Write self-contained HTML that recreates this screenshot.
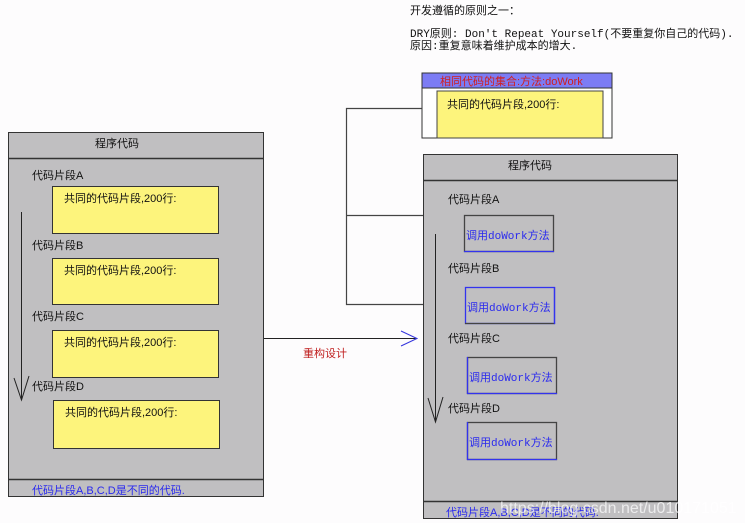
<!DOCTYPE html>
<html><head><meta charset="utf-8"><style>
html,body{margin:0;padding:0;background:#fdfcfd;width:745px;height:523px;overflow:hidden}
svg{display:block}
text{font-family:"Liberation Sans","Noto Sans CJK SC","WenQuanYi Zen Hei",sans-serif;font-size:11px;fill:#111}
.m{font-family:"Liberation Mono","Noto Sans CJK SC",monospace}
.b{fill:#2a2aee}
</style></head><body>
<svg width="745" height="523" viewBox="0 0 745 523" xmlns="http://www.w3.org/2000/svg">
<!-- top text -->
<text x="410" y="14">开发遵循的原则之一：</text>
<text x="410" y="37" class="m">DRY原则: Don't  Repeat  Yourself(不要重复你自己的代码).</text>
<text x="410" y="49" class="m">原因:重复意味着维护成本的增大.</text>

<!-- method box -->
<rect x="422" y="73" width="190" height="65" fill="#fff" stroke="#333"/>
<rect x="422" y="73" width="190" height="15" fill="#7c7cf4" stroke="#333"/>
<text x="440" y="85" fill="#d02020" style="fill:#d02020">相同代码的集合:方法:doWork</text>
<rect x="437" y="91" width="166" height="47" fill="#fdf47c" stroke="#444"/>
<text x="447" y="108">共同的代码片段,200行:</text>

<!-- left panel -->
<rect x="8.5" y="132.5" width="255" height="364" fill="#c0bfc1" stroke="#333"/>
<line x1="8" y1="158.5" x2="264" y2="158.5" stroke="#333" stroke-width="1.5"/>
<line x1="8" y1="479.5" x2="264" y2="479.5" stroke="#333" stroke-width="1.5"/>
<text x="95" y="147">程序代码</text>
<text x="32" y="179">代码片段A</text>
<text x="32" y="249">代码片段B</text>
<text x="32" y="320">代码片段C</text>
<text x="32" y="390">代码片段D</text>
<rect x="52.5" y="186.5" width="166" height="47" fill="#fdf47c" stroke="#333"/>
<rect x="52.5" y="258.5" width="166" height="46" fill="#fdf47c" stroke="#333"/>
<rect x="52.5" y="330.5" width="166" height="47" fill="#fdf47c" stroke="#333"/>
<rect x="53.5" y="400.5" width="166" height="48" fill="#fdf47c" stroke="#333"/>
<text x="64" y="202">共同的代码片段,200行:</text>
<text x="64" y="274">共同的代码片段,200行:</text>
<text x="64" y="346">共同的代码片段,200行:</text>
<text x="65" y="416">共同的代码片段,200行:</text>
<line x1="21.5" y1="212" x2="21.5" y2="400" stroke="#222"/>
<polyline points="14,378 21.5,400 29,376" fill="none" stroke="#222"/>
<text x="32" y="494" class="b">代码片段A,B,C,D是不同的代码.</text>

<!-- refactor arrow -->
<line x1="264" y1="338.5" x2="416" y2="338.5" stroke="#222"/>
<polyline points="401,331 417,338.5 401,346" fill="none" stroke="#3333dd"/>
<text x="303" y="357" style="fill:#c02020">重构设计</text>

<!-- connector -->
<polyline points="422,108.5 346.5,108.5 346.5,304.5 462,304.5" fill="none" stroke="#444" stroke-width="1.2"/>
<line x1="346" y1="215.5" x2="463" y2="215.5" stroke="#444" stroke-width="1.2"/>
<polyline points="452,211 462,215.5 452,220" fill="none" stroke="#333"/>
<polyline points="455,300 462,304.5 455,309" fill="none" stroke="#333"/>

<!-- right panel -->
<rect x="423.5" y="154.5" width="254" height="364" fill="#c0bfc1" stroke="#333"/>
<line x1="423" y1="180.5" x2="678" y2="180.5" stroke="#333" stroke-width="1.5"/>
<line x1="423" y1="501.5" x2="678" y2="501.5" stroke="#333" stroke-width="1.5"/>
<text x="508" y="169">程序代码</text>
<text x="448" y="203">代码片段A</text>
<text x="448" y="272">代码片段B</text>
<text x="448" y="342">代码片段C</text>
<text x="448" y="412">代码片段D</text>
<g fill="none" stroke-width="1.3">
<rect x="464.5" y="215.5" width="89" height="36" stroke="#444"/>
<line x1="464" y1="251.5" x2="554" y2="251.5" stroke="#3333ee"/>
<rect x="465.5" y="287.5" width="89" height="36" stroke="#3333ee"/>
<line x1="465" y1="323.5" x2="555" y2="323.5" stroke="#444"/>
<line x1="554.5" y1="287" x2="554.5" y2="324" stroke="#3333ee"/>
<rect x="467.5" y="357.5" width="89" height="36" stroke="#444"/>
<line x1="467.5" y1="357" x2="467.5" y2="394" stroke="#3333ee"/>
<line x1="467" y1="393.5" x2="557" y2="393.5" stroke="#3333ee"/>
<rect x="467.5" y="422.5" width="89" height="37" stroke="#444"/>
<line x1="467.5" y1="422" x2="467.5" y2="460" stroke="#3333ee"/>
<line x1="467" y1="459.5" x2="557" y2="459.5" stroke="#3333ee"/>
</g>
<text x="466" y="239" class="b">调用<tspan class="m" style="fill:#2a2aee">doWork</tspan>方法</text>
<text x="467" y="311" class="b">调用<tspan class="m" style="fill:#2a2aee">doWork</tspan>方法</text>
<text x="469" y="381" class="b">调用<tspan class="m" style="fill:#2a2aee">doWork</tspan>方法</text>
<text x="469" y="446" class="b">调用<tspan class="m" style="fill:#2a2aee">doWork</tspan>方法</text>
<line x1="435.5" y1="234" x2="435.5" y2="422" stroke="#222"/>
<polyline points="428,398 435.5,422 443,397" fill="none" stroke="#222"/>
<text x="446" y="516" class="b">代码片段A,B,C,D是不同的代码.</text>
<text x="500" y="513" style="fill:#ffffff;fill-opacity:0.7;font-size:16px">https://blog.csdn.net/u010171051</text>
</svg>
</body></html>
